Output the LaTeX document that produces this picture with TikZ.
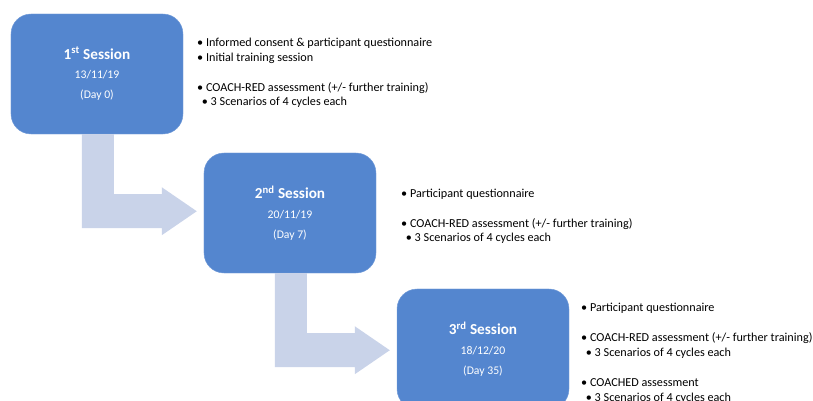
\documentclass[tikz,border=0pt]{standalone}
\usepackage{fontspec}
\setmainfont{Carlito}
\usetikzlibrary{calc}
\definecolor{sessblue}{RGB}{84,134,207}
\definecolor{arrowgrey}{RGB}{201,211,233}
\tikzset{
  sess/.style={fill=sessblue, draw=sessblue!80!white, rounded corners=0.6cm,
    minimum width=5.16cm, minimum height=3.6cm, text=white, align=center,
    font=\fontsize{10}{17}\selectfont},
  notes/.style={anchor=base west, inner sep=0pt, align=left,
    font=\fontsize{10.4}{12.75}\selectfont}
}
\newcommand{\bentarrow}[1]{
  \fill[arrowgrey] ($(#1.south west)+(71,0)$) -- ++(32,0) -- ++(0,60)
    -- ++(48,0) -- ++(0,-7) -- ++(35,24) -- ++(-35,24) -- ++(0,-7)
    -- ++(-80,0) -- cycle;
}
\newcommand{\stitle}[2]{{\fontsize{13}{17}\selectfont\bfseries #1\textsuperscript{#2} Session}}

\begin{document}
\begin{tikzpicture}[x=0.03cm, y=-0.03cm]
      \useasboundingbox (0,0) rectangle (813,401);
      \node[sess] (s1) at (97,74) {\stitle{1}{st}\\13/11/19\\(Day 0)};
      \node[sess] (s2) at (290,213) {\stitle{2}{nd}\\20/11/19\\(Day 7)};
      \node[sess] (s3) at (483,349) {\stitle{3}{rd}\\18/12/20\\(Day 35)};
      \bentarrow{s1}
      \bentarrow{s2}
      % base of each list is its last line
      \node[notes] (n1) at (197,106) {%
        • Informed consent \& participant questionnaire\\
        • Initial training session\\[12.75pt]
        • COACH-RED assessment (+/- further training)\\
        \hspace*{4pt}• 3 Scenarios of 4 cycles each};
      \node[notes] (n2) at (401,242) {%
        • Participant questionnaire\\[12.75pt]
        • COACH-RED assessment (+/- further training)\\
        \hspace*{4pt}• 3 Scenarios of 4 cycles each};
      \node[notes] (n3) at (581,401) {%
        • Participant questionnaire\\[12.75pt]
        • COACH-RED assessment (+/- further training)\\
        \hspace*{4pt}• 3 Scenarios of 4 cycles each\\[12.75pt]
        • COACHED assessment\\
        \hspace*{4pt}• 3 Scenarios of 4 cycles each};
  \end{tikzpicture}
\end{document}
